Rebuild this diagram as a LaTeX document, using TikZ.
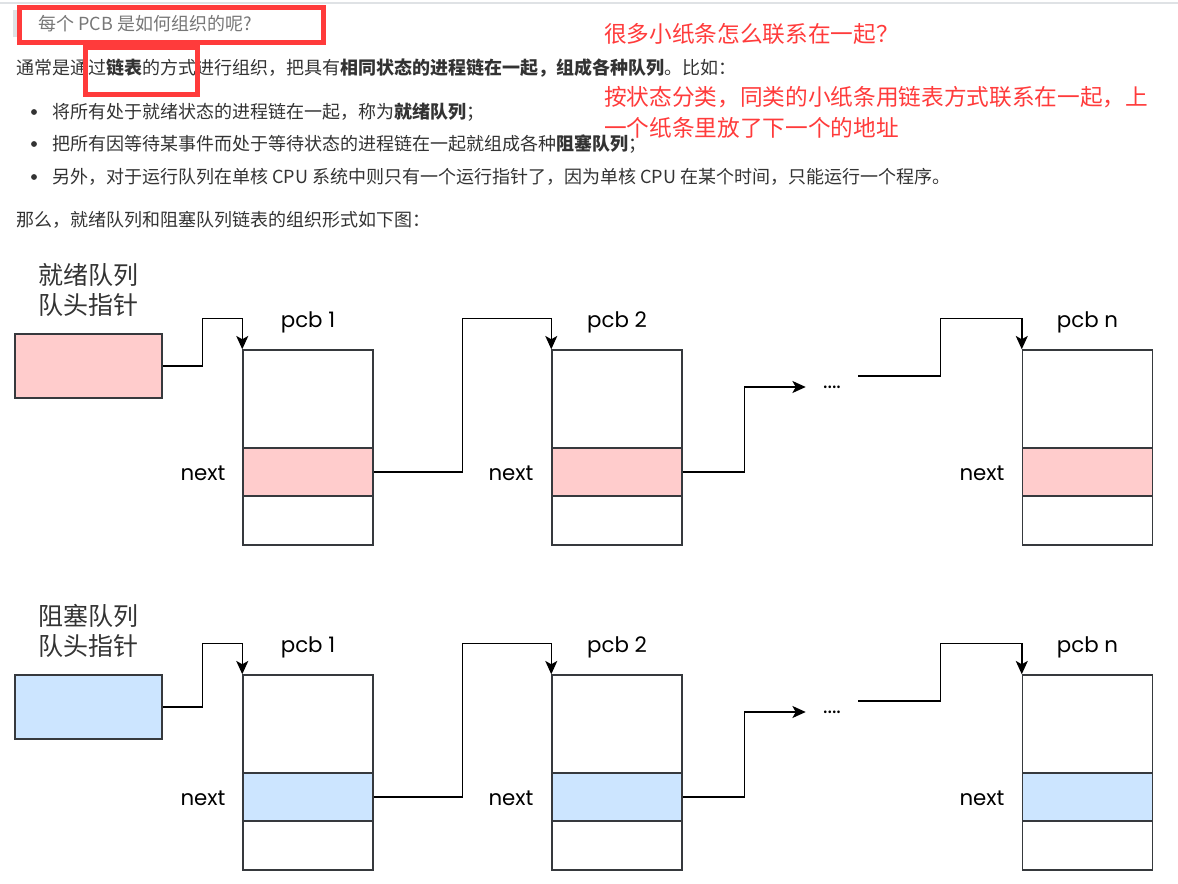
\documentclass[tikz,border=0pt]{standalone}
\usepackage{fontspec}
\setmainfont{Noto Sans CJK SC}
\newfontfamily\sketchfont{Poppins}
\usepackage{tikz}
\usetikzlibrary{positioning,arrows.meta}
\definecolor{bodyGray}{HTML}{333333}
\definecolor{quoteGray}{HTML}{777777}
\definecolor{barGray}{HTML}{DFE2E5}
\definecolor{markRed}{HTML}{FF3B3B}
\definecolor{readyPink}{HTML}{FFCCCC}
\definecolor{blockBlue}{HTML}{CCE5FF}
\definecolor{edgeGray}{HTML}{36393D}

\begin{document}
\begin{tikzpicture}[x=0.75pt,y=-0.75pt,
  body/.style={anchor=west,inner sep=0pt,text=bodyGray,font=\fontsize{13.5}{16}\selectfont},
  note/.style={anchor=west,inner sep=0pt,text=markRed,align=left,font=\fontsize{17}{23.25}\selectfont},
  redbox/.style={draw=markRed,line width=3.75pt},
  ptrbox/.style={draw=edgeGray,line width=1.1pt,minimum width=110.25pt,minimum height=48pt,inner sep=0pt},
  pcbbox/.style={draw=edgeGray,fill=white,line width=1.1pt,minimum width=97.5pt,minimum height=146.25pt,inner sep=0pt},
  nextbox/.style={draw=edgeGray,line width=1.1pt,minimum width=97.5pt,minimum height=36pt,inner sep=0pt},
  tag/.style={inner sep=0pt,text=black,font=\sketchfont\fontsize{16}{18}\selectfont},
  qlabel/.style={inner sep=0pt,text=bodyGray,align=left,font=\fontsize{18.75}{22.5}\selectfont},
  link/.style={draw=black,line width=1.1pt,-{Stealth[length=10pt,width=9pt,inset=2.5pt]}}]
\useasboundingbox (0,0) rectangle (1178,884);
% page text
\draw[barGray,line width=1pt] (0,3) -- (1178,3);
\fill[barGray] (13,10) rectangle (17,37);
\node[body,text=quoteGray] (title) at (38,24) {每个 PCB 是如何组织的呢?};
\node[body] (intro) at (16,68) {通常是通过\textbf{链表}的方式进行组织，把具有\textbf{相同状态的进程链在一起，组成各种队列}。比如：};
\fill[bodyGray] (34,112) circle (2.2pt); \node[body] (itemA) at (52,112) {将所有处于就绪状态的进程链在一起，称为\textbf{就绪队列}；};
\fill[bodyGray] (34,144) circle (2.2pt); \node[body] (itemB) at (52,144) {把所有因等待某事件而处于等待状态的进程链在一起就组成各种\textbf{阻塞队列}；};
\fill[bodyGray] (34,177) circle (2.2pt); \node[body] (itemC) at (52,177) {另外，对于运行队列在单核 CPU 系统中则只有一个运行指针了，因为单核 CPU 在某个时间，只能运行一个程序。};
\node[body] (lead) at (16,220) {那么，就绪队列和阻塞队列链表的组织形式如下图：};
% red notes
\draw[redbox] (19,7.5) rectangle (323.5,42.5);
\draw[redbox] (85,48) rectangle (197,94.5);
\node[note] (noteA) at (604,34) {很多小纸条怎么联系在一起？};
\node[note] (noteB) at (604,112.5) {按状态分类，同类的小纸条用链表方式联系在一起，上\\一个纸条里放了下一个的地址};
% ready queue
\node[qlabel] (readyLbl) at (88,290) {就绪队列\\队头指针};
\node[ptrbox,fill=readyPink] (ptrA) at (88.5,366) {};
\foreach \x/\k/\tx in {308/1/203,617/2/511,1087.5/n/982} {
  \node[pcbbox] (pcbA\k) at (\x,447.5) {};
  \node[nextbox,fill=readyPink] (nextA\k) at (\x,472) {};
  \node[tag] (tagA\k) at (\x,322) {pcb \k};
  \node[tag] (nxtA\k) at (\tx,473) {next};
}
\node[tag,minimum width=39pt] (dotsA) at (832,387) {....};
\draw[link] (ptrA.east) -- ++(40,0) |- ([yshift=23.25pt]pcbA1.north west) -- (pcbA1.north west);
\draw[link] (nextA1.east) -- ++(89,0) |- ([yshift=23.25pt]pcbA2.north west) -- (pcbA2.north west);
\draw[link] (nextA2.east) -- ++(62,0) |- (dotsA.west);
\draw[link] ([yshift=8.25pt]dotsA.east) -- ++(82,0) |- ([yshift=23.25pt]pcbAn.north west) -- (pcbAn.north west);
% blocked queue
\node[qlabel] (blockLbl) at (88,631) {阻塞队列\\队头指针};
\node[ptrbox,fill=blockBlue] (ptrB) at (88.5,707) {};
\foreach \x/\k/\tx in {308/1/203,617/2/511,1087.5/n/982} {
  \node[pcbbox] (pcbB\k) at (\x,772.5) {};
  \node[nextbox,fill=blockBlue] (nextB\k) at (\x,797) {};
  \node[tag] (tagB\k) at (\x,647) {pcb \k};
  \node[tag] (nxtB\k) at (\tx,798) {next};
}
\node[tag,minimum width=39pt] (dotsB) at (832,712) {....};
\draw[link] (ptrB.east) -- ++(40,0) |- ([yshift=23.25pt]pcbB1.north west) -- (pcbB1.north west);
\draw[link] (nextB1.east) -- ++(89,0) |- ([yshift=23.25pt]pcbB2.north west) -- (pcbB2.north west);
\draw[link] (nextB2.east) -- ++(62,0) |- (dotsB.west);
\draw[link] ([yshift=8.25pt]dotsB.east) -- ++(82,0) |- ([yshift=23.25pt]pcbBn.north west) -- (pcbBn.north west);
\end{tikzpicture}
\end{document}
